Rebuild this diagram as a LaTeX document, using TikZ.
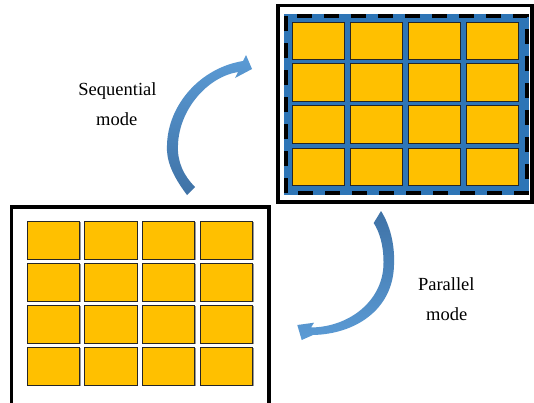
\documentclass[tikz,border=0pt]{standalone}
\usepackage{fontspec}
\setmainfont{Liberation Serif}
\definecolor{cellgold}{HTML}{FFC000}
\definecolor{panelblue}{HTML}{2E75B6}
\definecolor{arrowlight}{HTML}{5B9BD5}
\definecolor{arrowdark}{HTML}{3F72A6}
\begin{document}
\begin{tikzpicture}[x=1pt,y=-1pt,
  frame/.style={draw=black,line width=3.6pt},
  cell/.style={draw=black!85,line width=0.9pt,fill=cellgold,
    minimum width=52pt,minimum height=37.5pt,anchor=north west,
    inner sep=0pt,outer sep=0pt},
  lowcell/.style={cell,minimum width=52.5pt,minimum height=38pt},
  lbl/.style={font=\fontsize{18.5}{22}\selectfont,anchor=base,inner sep=0pt},
]
\useasboundingbox (0,0) rectangle (534,402);
\clip (0,0) rectangle (534,402);
\fill[white] (0,0) rectangle (534,402);

% parallel block: framed blue panel with a dashed border
\node[frame,minimum width=254pt,minimum height=196.7pt,inner sep=0pt] (parframe) at (405,103.65) {};
\fill[panelblue] (284,14) rectangle (529,195);
\draw[line width=4pt,dash pattern=on 15pt off 12pt] (286,16) rectangle (527,193);
\foreach \c/\x in {1/292,2/350,3/408,4/466}
  \foreach \r/\y in {1/22,2/63.5,3/105.5,4/148}
    \node[cell] (p\r\c) at (\x,\y) {};

% sequential block: open frame with shadowed cells
\draw[frame] (11.3,420) -- (11.3,207) -- (268.7,207) -- (268.7,420);
\foreach \c/\x in {1/27,2/84.5,3/142,4/200}
  \foreach \r/\y in {1/221,2/263,3/305,4/347}{
    \fill[black!40] (\x+1.3,\y+1.3) rectangle +(52.5,38);
    \node[lowcell] (s\r\c) at (\x,\y) {};
  }

% curved block arrow towards the parallel block
\shade[top color=arrowlight,bottom color=arrowdark]
  (187,195) .. controls (172,175) and (166,160) .. (167,145)
  .. controls (168,105) and (200,68) .. (243,61)
  -- (246,55) -- (252,69) -- (235,78) -- (238,72)
  .. controls (207,77) and (179,110) .. (178,145)
  .. controls (177,162) and (184,176) .. (195,187) -- cycle;

% curved block arrow back to the sequential block
\shade[top color=arrowdark,bottom color=arrowlight]
  (381,211) .. controls (390,225) and (395,245) .. (394,265)
  .. controls (393,310) and (355,334) .. (313,335)
  -- (301.7,340) -- (297.3,325) -- (314,322.7) -- (311,327.5)
  .. controls (350,327) and (384,300) .. (383.5,262)
  .. controls (383.5,245) and (379.5,232) .. (373.7,223) -- cycle;

% labels
\node[lbl] (seq1) at (117.5,95.7) {Sequential};
\node[lbl] (seq2) at (116.7,125) {mode};
\node[lbl] (par1) at (446.3,290.7) {Parallel};
\node[lbl] (par2) at (446.7,320) {mode};
\end{tikzpicture}
\end{document}
